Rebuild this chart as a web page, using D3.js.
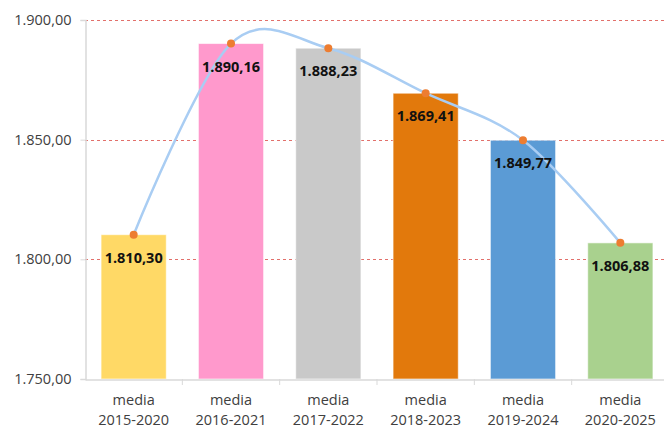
<!DOCTYPE html>
<html>
<head>
<meta charset="utf-8">
<script src="https://cdn.jsdelivr.net/npm/d3@7"></script>
<style>
  body { margin: 0; background: #fff; }
  svg { display: block; font-family: "Open Sans", "Noto Sans", sans-serif; }
</style>
</head>
<body>
<div id="chart-container"></div>
<script>
(function() {
'use strict';

const categories = ['2015-2020', '2016-2021', '2017-2022', '2018-2023', '2019-2024', '2020-2025'];
const values = [1810.30, 1890.16, 1888.23, 1869.41, 1849.77, 1806.88];
const barColors = ['#FFD966', '#FF99CC', '#C9C9C9', '#E2790C', '#5B9BD5', '#A9D18E'];
const yTicks = [1750, 1800, 1850, 1900];

const W = 664;
const H = 428;
const LEFT = 85;
const RIGHT = 669;
const TOP = 20;
const BOTTOM = 379;

const it = d3.formatLocale({ decimal: ',', thousands: '.', grouping: [3], currency: ['€', ''] });
const fmt = it.format(',.2f');

const svg = d3.select('#chart-container')
  .append('svg')
    .attr('width', W)
    .attr('height', H);

const xScale = d3.scaleBand()
  .domain(categories)
  .range([LEFT, RIGHT])
  .paddingInner(0.33)
  .paddingOuter(0.165);

const yScale = d3.scaleLinear()
  .domain([1750, 1900])
  .range([BOTTOM, TOP]);

// gridlines
svg.append('g')
  .selectAll('line')
  .data(yTicks.filter(d => d > 1750))
  .enter()
  .append('line')
    .attr('x1', LEFT)
    .attr('x2', W)
    .attr('y1', d => Math.round(yScale(d)) + 0.5)
    .attr('y2', d => Math.round(yScale(d)) + 0.5)
    .attr('stroke', '#E2706B')
    .attr('stroke-width', 1)
    .attr('stroke-dasharray', '3,3');

// bars
svg.append('g')
  .selectAll('rect')
  .data(values)
  .enter()
  .append('rect')
    .attr('x', (d, i) => xScale(categories[i]))
    .attr('y', d => yScale(d))
    .attr('width', xScale.bandwidth())
    .attr('height', d => BOTTOM - yScale(d))
    .attr('fill', (d, i) => barColors[i])
    .attr('stroke', 'rgba(255,255,255,0.6)')
    .attr('stroke-width', 1);

// y axis
const yAxis = d3.axisLeft(yScale)
  .tickValues(yTicks)
  .tickSize(5)
  .tickPadding(9)
  .tickFormat(fmt);

const gy = svg.append('g')
  .attr('transform', `translate(${LEFT + 0.5}, 0)`)
  .call(yAxis);
gy.select('.domain').attr('stroke', '#D9D9D9').attr('stroke-width', 1.5);
gy.selectAll('.tick line').attr('stroke', '#D9D9D9');
gy.selectAll('.tick text')
  .attr('font-size', 14.5)
  .attr('fill', '#404040')
  .attr('font-family', '"Open Sans", sans-serif');

// x axis
const step = xScale.step();
const xAxis = d3.axisBottom(xScale).tickSize(0).tickFormat('');
const gx = svg.append('g')
  .attr('transform', `translate(0, ${BOTTOM + 0.5})`)
  .call(xAxis);
gx.select('.domain').attr('stroke', '#D9D9D9').attr('stroke-width', 1.5);

// x axis separators
svg.append('g')
  .selectAll('line')
  .data(categories.slice(1))
  .enter()
  .append('line')
    .attr('x1', d => xScale(d) - xScale.paddingInner() * step / 2)
    .attr('x2', d => xScale(d) - xScale.paddingInner() * step / 2)
    .attr('y1', BOTTOM)
    .attr('y2', BOTTOM + 6)
    .attr('stroke', '#D9D9D9');

// category labels
const catLabels = svg.append('g')
  .selectAll('text')
  .data(categories)
  .enter()
  .append('text')
    .attr('text-anchor', 'middle')
    .attr('font-size', 14.5)
    .attr('fill', '#404040');
catLabels.append('tspan')
  .attr('x', d => xScale(d) + xScale.bandwidth() / 2)
  .attr('y', 405)
  .text('media');
catLabels.append('tspan')
  .attr('x', d => xScale(d) + xScale.bandwidth() / 2)
  .attr('y', 425)
  .text(d => d);

// smoothed line
const line = d3.line()
  .x((d, i) => xScale(categories[i]) + xScale.bandwidth() / 2)
  .y(d => yScale(d))
  .curve(d3.curveCardinal.tension(0));

svg.append('path')
  .datum(values)
  .attr('d', line)
  .attr('fill', 'none')
  .attr('stroke', '#A9CDF3')
  .attr('stroke-width', 2.5);

// points
svg.append('g')
  .selectAll('circle')
  .data(values)
  .enter()
  .append('circle')
    .attr('cx', (d, i) => xScale(categories[i]) + xScale.bandwidth() / 2)
    .attr('cy', d => yScale(d))
    .attr('r', 4)
    .attr('fill', '#ED7D31');

// value labels
svg.append('g')
  .selectAll('text')
  .data(values)
  .enter()
  .append('text')
    .attr('x', (d, i) => xScale(categories[i]) + xScale.bandwidth() / 2)
    .attr('y', d => yScale(d) + 28)
    .attr('text-anchor', 'middle')
    .attr('font-size', 14.5)
    .attr('font-weight', 'bold')
    .attr('fill', '#111')
    .text(d => fmt(d));

})();
</script>
</body>
</html>
